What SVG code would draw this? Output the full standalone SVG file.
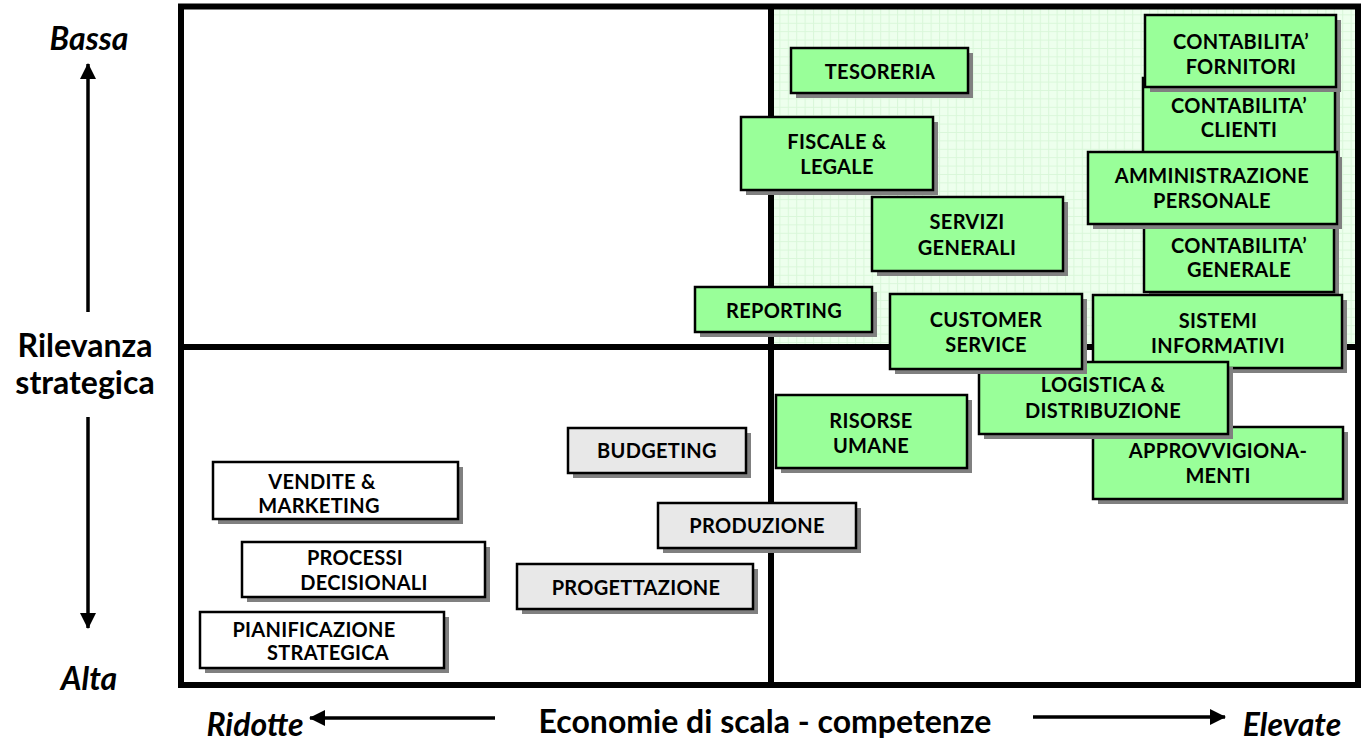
<svg xmlns="http://www.w3.org/2000/svg" width="1366" height="741" viewBox="0 0 1366 741">
<defs>
<pattern id="grid" x="771" y="6" width="8.4" height="8.4" patternUnits="userSpaceOnUse">
<rect width="8.4" height="8.4" fill="#edffed"/>
<path d="M0 0.5H8.4M0.5 0V8.4" stroke="#d9f7d9" stroke-width="1" fill="none"/>
</pattern>
<marker id="ah" viewBox="0 0 16 16" refX="15" refY="8" markerWidth="16" markerHeight="16" markerUnits="userSpaceOnUse" orient="auto">
<path d="M0 0L16 8L0 16Z" fill="#000"/>
</marker>
</defs>
<style>
.sh{fill:#808080}
.g{fill:#99ff99;stroke:#000;stroke-width:2.5}
.w{fill:#ffffff;stroke:#000;stroke-width:2.5}
.y{fill:#e8e8e8;stroke:#000;stroke-width:2.5}
.t{font-family:Lato,"Open Sans",sans-serif;font-weight:bold;font-size:20px;fill:#000;text-anchor:middle;letter-spacing:0.3px}
.ax{font-family:Lato,"Open Sans",sans-serif;font-weight:bold;font-size:32px;fill:#000;text-anchor:middle}
.it{font-family:Lato,"Open Sans",sans-serif;font-weight:bold;font-style:italic;font-size:32px;fill:#000;text-anchor:middle}
.frame{fill:none;stroke:#000;stroke-width:6}
.arr{stroke:#000;stroke-width:3.5;fill:none}
</style>
<rect width="1366" height="741" fill="#fff"/>
<g id="quadrants">
<rect x="771" y="6" width="587" height="341" fill="url(#grid)"/>
<rect class="frame" x="181" y="6.5" width="1177" height="678.5"/>
<line x1="771" y1="6" x2="771" y2="685" stroke="#000" stroke-width="6"/>
<line x1="181" y1="347" x2="1358" y2="347" stroke="#000" stroke-width="6"/>
</g>
<g id="connectors">
<line class="arr" x1="88" y1="312" x2="88" y2="64" marker-end="url(#ah)"/>
<line class="arr" x1="88" y1="417" x2="88" y2="628" marker-end="url(#ah)"/>
<line class="arr" x1="495" y1="718" x2="310" y2="718" marker-end="url(#ah)"/>
<line class="arr" x1="1033" y1="717" x2="1225" y2="717" marker-end="url(#ah)"/>
</g>
<g id="axis-labels">
<text class="it" x="89" y="50">Bassa</text>
<text class="it" x="89" y="690">Alta</text>
<text class="ax" x="85" y="357">Rilevanza</text>
<text class="ax" x="85" y="394">strategica</text>
<text class="it" x="255" y="736">Ridotte</text>
<text class="ax" x="765" y="733">Economie di scala - competenze</text>
<text class="it" x="1292" y="736">Elevate</text>
</g>
<g id="n-tesoreria"><rect class="sh" x="796" y="53" width="177" height="45"/><rect class="g" x="791" y="48" width="177" height="45"/><text class="t" x="880" y="79">TESORERIA</text></g>
<g id="n-fiscale"><rect class="sh" x="746" y="122" width="192" height="73"/><rect class="g" x="741" y="117" width="192" height="73"/><text class="t" x="837" y="149">FISCALE &amp;</text><text class="t" x="837" y="174">LEGALE</text></g>
<g id="n-servizi"><rect class="sh" x="877" y="202" width="191" height="74"/><rect class="g" x="872" y="197" width="191" height="74"/><text class="t" x="967" y="229">SERVIZI</text><text class="t" x="967" y="255">GENERALI</text></g>
<g id="n-reporting"><rect class="sh" x="700" y="292" width="177" height="45"/><rect class="g" x="695" y="287" width="177" height="45"/><text class="t" x="784" y="318">REPORTING</text></g>
<g id="n-clienti"><rect class="sh" x="1148" y="83" width="192" height="80"/><rect class="g" x="1143" y="78" width="192" height="80"/><text class="t" x="1239" y="113">CONTABILITA’</text><text class="t" x="1239" y="137">CLIENTI</text></g>
<g id="n-generale"><rect class="sh" x="1149" y="225" width="190" height="72"/><rect class="g" x="1144" y="220" width="190" height="72"/><text class="t" x="1239" y="253">CONTABILITA’</text><text class="t" x="1239" y="277">GENERALE</text></g>
<g id="n-fornitori"><rect class="sh" x="1150" y="20" width="191" height="72"/><rect class="g" x="1145" y="15" width="191" height="72"/><text class="t" x="1241" y="49">CONTABILITA’</text><text class="t" x="1241" y="74">FORNITORI</text></g>
<g id="n-amministrazione"><rect class="sh" x="1093" y="157" width="249" height="72"/><rect class="g" x="1088" y="152" width="249" height="72"/><text class="t" x="1212" y="183">AMMINISTRAZIONE</text><text class="t" x="1212" y="208">PERSONALE</text></g>
<g id="n-sistemi"><rect class="sh" x="1098" y="300" width="249" height="73"/><rect class="g" x="1093" y="295" width="249" height="73"/><text class="t" x="1218" y="328">SISTEMI</text><text class="t" x="1218" y="353">INFORMATIVI</text></g>
<g id="n-approvvigionamenti"><rect class="sh" x="1098" y="432" width="250" height="72"/><rect class="g" x="1093" y="427" width="250" height="72"/><text class="t" x="1218" y="458">APPROVVIGIONA-</text><text class="t" x="1218" y="483">MENTI</text></g>
<g id="n-logistica"><rect class="sh" x="984" y="367" width="249" height="72"/><rect class="g" x="979" y="362" width="249" height="72"/><text class="t" x="1103" y="392">LOGISTICA &amp;</text><text class="t" x="1103" y="418">DISTRIBUZIONE</text></g>
<g id="n-customer"><rect class="sh" x="895" y="299" width="192" height="75"/><rect class="g" x="890" y="294" width="192" height="75"/><text class="t" x="986" y="327">CUSTOMER</text><text class="t" x="986" y="352">SERVICE</text></g>
<g id="n-risorse"><rect class="sh" x="781" y="400" width="191" height="73"/><rect class="g" x="776" y="395" width="191" height="73"/><text class="t" x="871" y="428">RISORSE</text><text class="t" x="871" y="453">UMANE</text></g>
<g id="n-budgeting"><rect class="sh" x="573" y="433" width="178" height="45"/><rect class="y" x="568" y="428" width="178" height="45"/><text class="t" x="657" y="458">BUDGETING</text></g>
<g id="n-produzione"><rect class="sh" x="663" y="508" width="198" height="45"/><rect class="y" x="658" y="503" width="198" height="45"/><text class="t" x="757" y="533">PRODUZIONE</text></g>
<g id="n-progettazione"><rect class="sh" x="522" y="569" width="236" height="45"/><rect class="y" x="517" y="564" width="236" height="45"/><text class="t" x="636" y="595">PROGETTAZIONE</text></g>
<g id="n-vendite"><rect class="sh" x="218" y="467" width="245" height="57"/><rect class="w" x="213" y="462" width="245" height="57"/><text class="t" x="322" y="489">VENDITE &amp;</text><text class="t" x="319" y="513">MARKETING</text></g>
<g id="n-processi"><rect class="sh" x="247" y="547" width="243" height="55"/><rect class="w" x="242" y="542" width="243" height="55"/><text class="t" x="355" y="565">PROCESSI</text><text class="t" x="364" y="590">DECISIONALI</text></g>
<g id="n-pianificazione"><rect class="sh" x="205" y="617" width="244" height="56"/><rect class="w" x="200" y="612" width="244" height="56"/><text class="t" x="314" y="637">PIANIFICAZIONE</text><text class="t" x="328" y="660">STRATEGICA</text></g>
</svg>
